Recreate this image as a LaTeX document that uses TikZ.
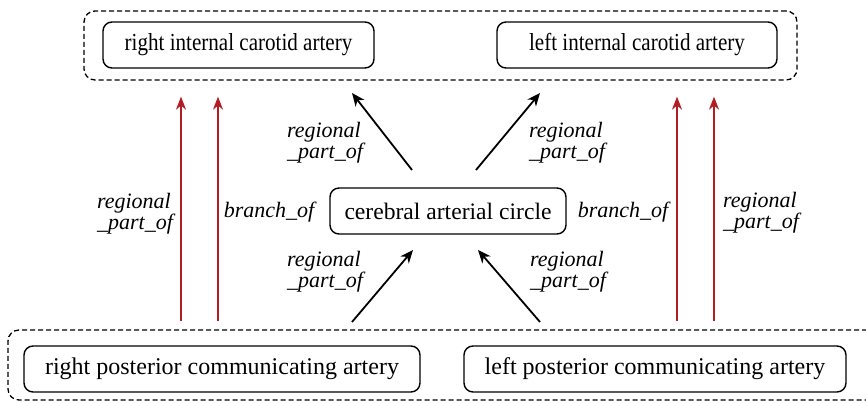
\documentclass[tikz,border=0pt]{standalone}
\usepackage{fontspec}
\setmainfont{Liberation Serif}
\usetikzlibrary{arrows.meta}
\definecolor{linkred}{RGB}{180,28,36}
\newcommand{\narrowtext}[1]{\scalebox{0.86}[1]{#1}}
\begin{document}
\begin{tikzpicture}[x=1pt,y=-1pt,
  box/.style={draw,rounded corners=9pt,line width=1.4pt,minimum height=46pt,
    inner sep=0pt,font=\fontsize{24}{26}\selectfont},
  topbox/.style={box,font=\fontsize{24.5}{26}\selectfont},
  grp/.style={draw,rounded corners=11pt,line width=1.3pt,dash pattern=on 5pt off 3pt,
    inner sep=0pt},
  lab/.style={font=\itshape\fontsize{22}{21}\selectfont,align=left,inner sep=0pt},
  blkarr/.style={-{Stealth[length=13pt,width=11pt,inset=4pt]},line width=1.8pt},
  redarr/.style={-{Stealth[length=13pt,width=10pt,inset=4pt]},line width=1.8pt,draw=linkred,color=linkred},
]
\useasboundingbox (0,0) rectangle (866,403);

% groups
\node[grp,minimum width=713pt,minimum height=69pt] (top) at (440.5,45.5) {};
\node[grp,minimum width=870pt,minimum height=70pt] (bot) at (443,365) {};

% entity boxes
\node[topbox,minimum width=271pt] (rica) at (238.5,45) {\narrowtext{right internal carotid artery}};
\node[topbox,minimum width=280pt] (lica) at (637,45) {\narrowtext{left internal carotid artery}};
\node[box,minimum width=236pt,font=\fontsize{23.6}{26}\selectfont] (cac) at (448,211) {cerebral arterial circle};
\node[box,minimum width=396pt] (rpca) at (222,369) {right posterior communicating artery};
\node[box,minimum width=382pt] (lpca) at (655,369) {left posterior communicating artery};

% red links from the lower group to the upper group
\draw[redarr,shorten <=8pt,shorten >=16pt] (bot.north -| 181,0) -- (top.south -| 181,0);
\draw[redarr,shorten <=8pt,shorten >=16pt] (bot.north -| 218,0) -- (top.south -| 218,0);
\draw[redarr,shorten <=8pt,shorten >=16pt] (bot.north -| 677,0) -- (top.south -| 677,0);
\draw[redarr,shorten <=8pt,shorten >=16pt] (bot.north -| 714,0) -- (top.south -| 714,0);

% black links through the circle
\coordinate (c1) at (412,170);
\coordinate (c2) at (352,93);
\coordinate (c3) at (476,170);
\coordinate (c4) at (540,93);
\coordinate (c5) at (352,322);
\coordinate (c6) at (413,250);
\coordinate (c7) at (540,322);
\coordinate (c8) at (478,250);
\draw[blkarr] (c1) -- (c2);
\draw[blkarr] (c3) -- (c4);
\draw[blkarr] (c5) -- (c6);
\draw[blkarr] (c7) -- (c8);

% labels
\node[lab] (l1) at (135,214) {regional\\\_part\_of};
\node[lab] (l2) at (269,212) {branch\_of};
\node[lab] (l3) at (325,143) {regional\\\_part\_of};
\node[lab] (l4) at (325,272) {regional\\\_part\_of};
\node[lab] (l5) at (567,143) {regional\\\_part\_of};
\node[lab] (l6) at (568,272) {regional\\\_part\_of};
\node[lab] (l7) at (623,212) {branch\_of};
\node[lab] (l8) at (761,213) {regional\\\_part\_of};
\end{tikzpicture}
\end{document}
